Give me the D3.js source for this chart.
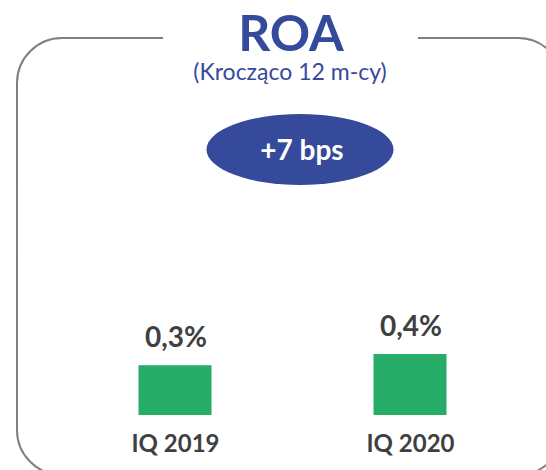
<!DOCTYPE html>
<html><head><meta charset="utf-8">
<script src="https://cdn.jsdelivr.net/npm/d3@7"></script>
<style>html,body{margin:0;padding:0;background:#fff;}svg{display:block;}</style>
</head><body>
<script>
const categories = ["IQ 2019", "IQ 2020"];
const values = [0.31, 0.38];
const valueLabels = ["0,3%", "0,4%"];
const title = "ROA";
const subtitle = "(Krocząco 12 m-cy)";
const badge = "+7 bps";

const W = 546, H = 470;
const blue = "#364a9c", green = "#28ad68", textGray = "#404040", borderGray = "#808080";
const font = "Lato, 'Open Sans', sans-serif";

const svg = d3.select("body").append("svg").attr("width", W).attr("height", H);

// Rounded frame with gap for title
svg.append("path")
  .attr("d", "M418,38 H518 A45,45 0 0 1 563,83 V430 A45,45 0 0 1 518,475 H62 A45,45 0 0 1 17,430 V83 A45,45 0 0 1 62,38 H163")
  .attr("fill", "none").attr("stroke", borderGray).attr("stroke-width", 2);

svg.append("text").attr("x", 291).attr("y", 51).attr("text-anchor", "middle")
  .attr("font-family", font).attr("font-weight", 700).attr("font-size", 50)
  .attr("fill", blue).text(title);
svg.append("text").attr("x", 290).attr("y", 80).attr("text-anchor", "middle")
  .attr("font-family", font).attr("font-size", 23)
  .attr("fill", blue).text(subtitle);

svg.append("ellipse").attr("cx", 300).attr("cy", 149.5).attr("rx", 93.5).attr("ry", 35.5).attr("fill", blue);
svg.append("text").attr("x", 302).attr("y", 160).attr("text-anchor", "middle")
  .attr("font-family", font).attr("font-weight", 700).attr("font-size", 28)
  .attr("fill", "#fff").text(badge);

const x = d3.scalePoint().domain(categories).range([175, 410]);
const y = d3.scaleLinear().domain([0, 0.38]).range([415, 354]);
const bw = 73;

const g = svg.append("g");
g.selectAll("rect.bar").data(values).join("rect").attr("class", "bar")
  .attr("x", (d, i) => x(categories[i]) - bw / 2)
  .attr("width", bw)
  .attr("y", d => y(d))
  .attr("height", d => y(0) - y(d))
  .attr("fill", green);

g.selectAll("text.val").data(values).join("text").attr("class", "val")
  .attr("x", (d, i) => x(categories[i]) + 1)
  .attr("y", d => y(d) - 18)
  .attr("text-anchor", "middle")
  .attr("font-family", font).attr("font-weight", 700).attr("font-size", 28)
  .attr("fill", textGray)
  .text((d, i) => valueLabels[i]);

const xAxis = d3.axisBottom(x).tickSize(0).tickPadding(0);
const ax = svg.append("g").attr("transform", "translate(0,433)").call(xAxis);
ax.select(".domain").remove();
ax.selectAll("text")
  .attr("font-family", font).attr("font-weight", 700).attr("font-size", 24)
  .attr("fill", textGray).attr("dy", "0.78em");
</script>
</body></html>
